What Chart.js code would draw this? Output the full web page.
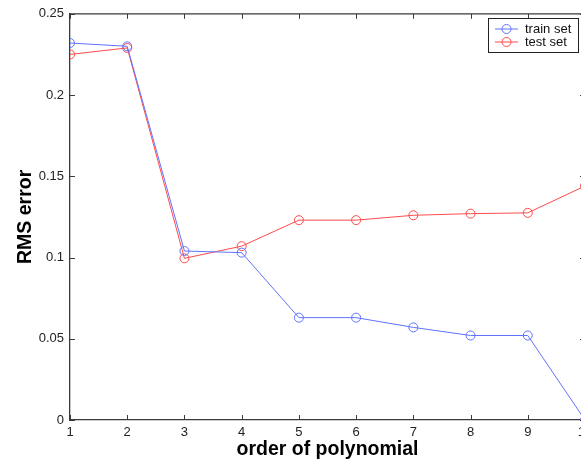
<!DOCTYPE html>
<html lang="en">
<head>
<meta charset="UTF-8">
<script src="https://cdn.jsdelivr.net/npm/chart.js"></script>
<style>
html, body { margin: 0; padding: 0; overflow: hidden; background: #fff; }
#wrap { position: absolute; left: 0; top: 0; width: 600px; height: 459px; }
</style>
</head>
<body>
<div id="wrap"><canvas id="myChart" width="600" height="459"></canvas></div>
<script>
// polynomial order on the x axis
const orders = [1, 2, 3, 4, 5, 6, 7, 8, 9, 10];
// RMS error
const trainErr = [0.232, 0.230, 0.104, 0.103, 0.063, 0.063, 0.057, 0.052, 0.052, 0.0];
const testErr = [0.225, 0.229, 0.0995, 0.107, 0.123, 0.123, 0.126, 0.127, 0.1275, 0.144];
const xTickValues = [1, 2, 3, 4, 5, 6, 7, 8, 9, 10];
const xTickLabels = ['1', '2', '3', '4', '5', '6', '7', '8', '9', '10'];
const yTickValues = [0, 0.05, 0.1, 0.15, 0.2, 0.25];
const yTickLabels = ['0', '0.05', '0.1', '0.15', '0.2', '0.25'];

const blue = 'rgb(95,115,255)';
const red = 'rgb(255,75,75)';
const axisColor = '#3a3a3a';
const fontFamily = '"Liberation Sans", Arial, Helvetica, sans-serif';

function points(ys) {
    return orders.map((x, i) => ({ x: x, y: ys[i] }));
}

// box, inward ticks on all four sides (matlab look)
const frame = {
    id: 'frame',
    afterDraw(chart) {
        const ctx = chart.ctx;
        const a = chart.chartArea;
        const xs = chart.scales.x, ys = chart.scales.y;
        const tl = 5;
        ctx.save();
        ctx.strokeStyle = axisColor;
        ctx.lineWidth = 1.3;
        ctx.beginPath();
        ctx.moveTo(a.left, a.top); ctx.lineTo(a.right, a.top);
        ctx.moveTo(a.right, a.top); ctx.lineTo(a.right, a.bottom);
        ctx.stroke();
        ctx.lineWidth = 1;
        ctx.beginPath();
        xTickValues.forEach(v => {
            const px = Math.round(xs.getPixelForValue(v)) + 0.5;
            ctx.moveTo(px, a.bottom); ctx.lineTo(px, a.bottom - tl);
            ctx.moveTo(px, a.top); ctx.lineTo(px, a.top + tl);
        });
        yTickValues.forEach(v => {
            const py = Math.round(ys.getPixelForValue(v)) + 0.5;
            ctx.moveTo(a.left, py); ctx.lineTo(a.left + tl, py);
            ctx.moveTo(a.right, py); ctx.lineTo(a.right - tl, py);
        });
        ctx.stroke();
        ctx.restore();
    }
};

// legend box in the upper right corner
const boxLegend = {
    id: 'boxLegend',
    afterDraw(chart) {
        const ctx = chart.ctx;
        const bx = 488.5, by = 18.5, bw = 90, bh = 34;
        ctx.save();
        ctx.fillStyle = '#fff';
        ctx.fillRect(bx, by, bw, bh);
        ctx.strokeStyle = '#222';
        ctx.lineWidth = 1;
        ctx.strokeRect(bx, by, bw, bh);
        ctx.font = '13px ' + fontFamily;
        ctx.textBaseline = 'middle';
        chart.data.datasets.forEach((ds, i) => {
            const y = 29 + i * 13;
            ctx.strokeStyle = ds.borderColor;
            ctx.beginPath();
            ctx.moveTo(495, y); ctx.lineTo(518, y);
            ctx.stroke();
            ctx.beginPath();
            ctx.arc(506.5, y, 4.5, 0, Math.PI * 2);
            ctx.stroke();
            ctx.fillStyle = '#111';
            ctx.fillText(ds.label, 525, y + 0.5);
        });
        ctx.restore();
    }
};

const ctx = document.getElementById('myChart').getContext('2d');
new Chart(ctx, {
    type: 'line',
    data: {
        datasets: [{
            label: 'train set',
            data: points(trainErr),
            borderColor: blue,
            backgroundColor: 'rgba(0,0,0,0)',
            borderWidth: 1,
            pointRadius: 4.5,
            pointBorderWidth: 1,
            pointBorderColor: blue,
            pointBackgroundColor: 'rgba(0,0,0,0)',
            tension: 0
        }, {
            label: 'test set',
            data: points(testErr),
            borderColor: red,
            backgroundColor: 'rgba(0,0,0,0)',
            borderWidth: 1,
            pointRadius: 4.5,
            pointBorderWidth: 1,
            pointBorderColor: red,
            pointBackgroundColor: 'rgba(0,0,0,0)',
            tension: 0
        }]
    },
    options: {
        responsive: false,
        animation: false,
        layout: { padding: { left: 0, top: 13, right: 15, bottom: 0 } },
        plugins: {
            legend: { display: false },
            tooltip: { enabled: false }
        },
        scales: {
            x: {
                type: 'linear',
                min: 1,
                max: 10,
                grid: { display: false, drawTicks: false },
                border: { display: true, color: axisColor, width: 1.3 },
                afterBuildTicks: s => { s.ticks = xTickValues.map(v => ({ value: v })); },
                afterFit: s => { s.height = 39; },
                ticks: {
                    padding: 5,
                    maxRotation: 0,
                    color: '#222',
                    font: { family: fontFamily, size: 13 },
                    callback: (v) => xTickLabels[xTickValues.indexOf(v)]
                },
                title: {
                    display: true,
                    text: 'order of polynomial',
                    color: '#000',
                    padding: { top: 0, bottom: 0 },
                    font: { family: fontFamily, size: 19.5, weight: 'bold', lineHeight: 0.92 }
                }
            },
            y: {
                min: 0,
                max: 0.25,
                grid: { display: false, drawTicks: false },
                border: { display: true, color: axisColor, width: 1.3 },
                afterBuildTicks: s => { s.ticks = yTickValues.map(v => ({ value: v })); },
                afterFit: s => { s.width = 70; },
                ticks: {
                    padding: 6,
                    color: '#222',
                    font: { family: fontFamily, size: 13 },
                    callback: (v) => yTickLabels[yTickValues.indexOf(v)]
                },
                title: {
                    display: true,
                    text: 'RMS error',
                    color: '#000',
                    padding: { top: 17, bottom: 0 },
                    font: { family: fontFamily, size: 19.5, weight: 'bold', lineHeight: 0.92 }
                }
            }
        }
    },
    plugins: [frame, boxLegend]
});
</script>
</body>
</html>
